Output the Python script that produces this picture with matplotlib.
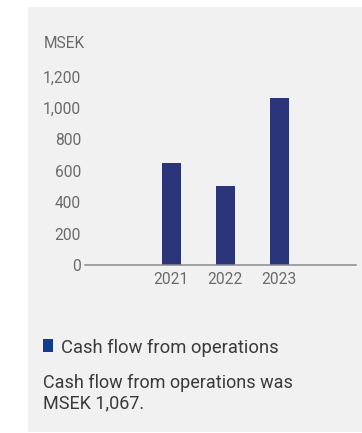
import matplotlib
matplotlib.use("Agg")
import matplotlib.pyplot as plt
from matplotlib.patches import Rectangle

years = ["2021", "2022", "2023"]
cash_flow = [650, 503, 1067]
y_ticks = [0, 200, 400, 600, 800, 1000, 1200]
y_tick_labels = ["0", "200", "400", "600", "800", "1,000", "1,200"]
unit_label = "MSEK"
legend_label = "Cash flow from operations"
note = "Cash flow from operations was\nMSEK 1,067."

W, H = 362, 433
plt.rcParams["font.family"] = ["Roboto", "DejaVu Sans"]

fig = plt.figure(figsize=(W / 100, H / 100), dpi=100)
fig.patch.set_facecolor("white")

# grey card behind the chart
fig.patches.append(Rectangle((28 / W, 1 - 432 / H), (362 - 28) / W, (432 - 7) / H,
                             transform=fig.transFigure, facecolor="#f1f1f1",
                             edgecolor="none", zorder=-5))

ax = fig.add_axes([85 / W, (H - 265) / H, (356 - 85) / W, (265 - 76.7) / H])
ax.set_zorder(2)
ax.set_facecolor("none")
x = list(range(len(years)))
ax.bar(x, cash_flow, width=0.35, color="#2a357a", zorder=2)

ax.set_xlim(-1.6, 3.42)
ax.set_ylim(0, 1200)
ax.set_yticks(y_ticks)
ax.set_yticklabels(y_tick_labels)
ax.set_xticks(x)
ax.set_xticklabels(years)
for s in ["top", "right", "left"]:
    ax.spines[s].set_visible(False)
ax.spines["bottom"].set_color("#8a8a8a")
ax.spines["bottom"].set_linewidth(1.1)
ax.tick_params(axis="y", length=0, pad=2.8, labelsize=11.2, labelcolor="#6b6b6b")
ax.tick_params(axis="x", length=0, pad=5, labelsize=11.2, labelcolor="#6b6b6b")

fig.text(44 / W, 1 - 44 / H, unit_label, fontsize=11.2, color="#6b6b6b",
         ha="left", va="center")

# legend
fig.patches.append(Rectangle((43 / W, 1 - 352 / H), 10 / W, 13 / H,
                             transform=fig.transFigure, facecolor="#123c8e",
                             edgecolor="none", zorder=3))
fig.text(61 / W, 1 - 347.5 / H, legend_label, fontsize=13.2, color="#3a3a3a",
         ha="left", va="center")

fig.text(43 / W, 1 - 374 / H, note, fontsize=13, color="#3a3a3a",
         ha="left", va="top", linespacing=1.15)

fig.savefig("out.png", dpi=100)
